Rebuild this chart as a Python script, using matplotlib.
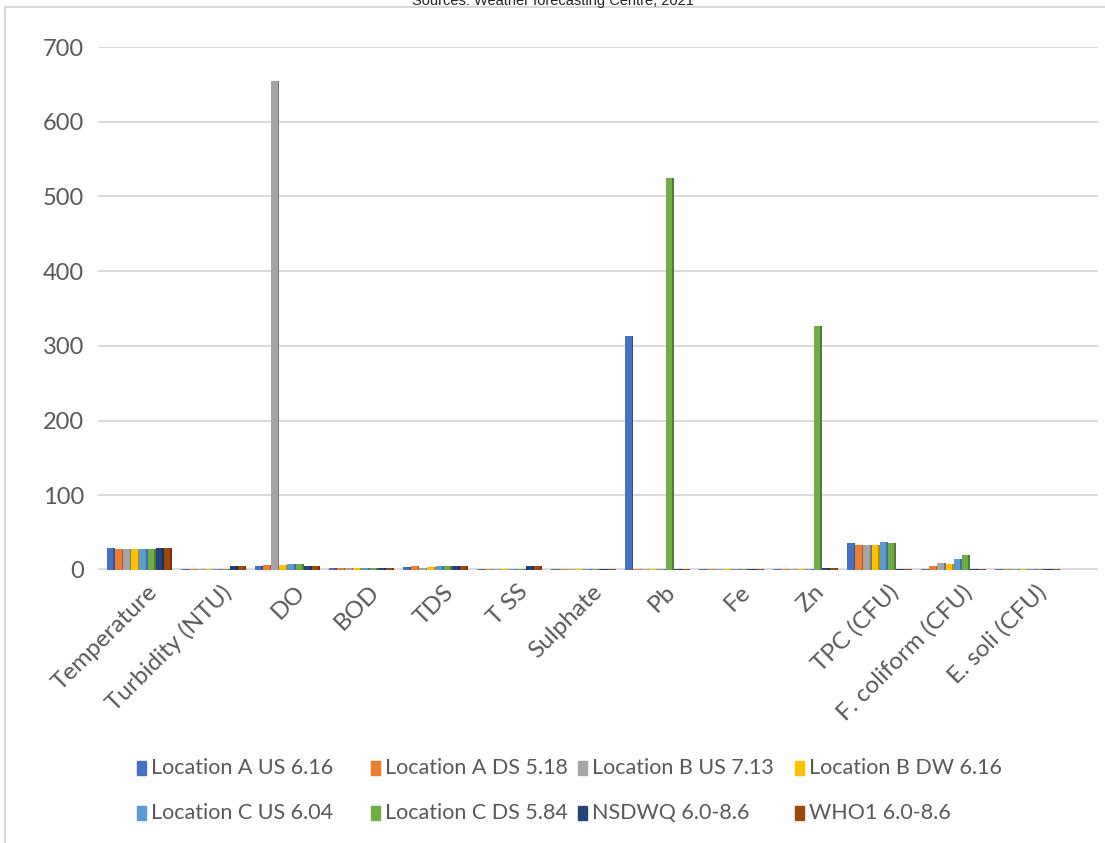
import matplotlib
matplotlib.use("Agg")
import matplotlib.pyplot as plt
from matplotlib.patches import Rectangle
from matplotlib.lines import Line2D
import matplotlib.colors as mcolors
import numpy as np

# Water quality parameters measured at each sampling point
categories = ["Temperature", "Turbidity (NTU)", "DO", "BOD", "TDS", "T SS",
              "Sulphate", "Pb", "Fe", "Zn", "TPC (CFU)", "F. coliform (CFU)",
              "E. soli (CFU)"]

series_names = ["Location A US 6.16", "Location A DS 5.18", "Location B US 7.13",
                "Location B DW 6.16", "Location C US 6.04", "Location C DS 5.84",
                "NSDWQ 6.0-8.6", "WHO1 6.0-8.6"]

loc_a_us = [30, 1.5, 6, 3, 4, 1, 1.5, 313, 1.5, 1, 36, 1, 2]
loc_a_ds = [28, 1.5, 7, 3, 6, 1, 1.5, 1, 1.5, 1, 34, 6, 2]
loc_b_us = [28, 1.5, 655, 3, 3, 1, 1.5, 1, 1.5, 1, 33, 9, 1.5]
loc_b_dw = [28, 1.5, 7, 3, 4, 1, 1.5, 1, 1.5, 1, 34, 8, 2]
loc_c_us = [28, 1.5, 8, 3, 6, 1, 1.5, 1, 1.5, 1, 37, 15, 2]
loc_c_ds = [28, 1.5, 8, 3, 6, 1, 1.5, 525, 1.5, 327, 36, 20, 2]
nsdwq = [30, 5, 5, 3, 5, 5, 2, 1, 1.5, 3, 1, 1, 1]
who1 = [30, 5, 5, 3, 5, 5, 2, 1, 1.5, 3, 1, 1, 1]

y_ticks = [0, 100, 200, 300, 400, 500, 600, 700]

series_values = [loc_a_us, loc_a_ds, loc_b_us, loc_b_dw,
                 loc_c_us, loc_c_ds, nsdwq, who1]
colors = ["#4472C4", "#ED7D31", "#A5A5A5", "#FFC000",
          "#5B9BD5", "#70AD47", "#264478", "#9E480E"]

TEXT = "#595959"
GRID = "#D9D9D9"
FONT = ["Lato", "DejaVu Sans"]

W, H = 1105, 843
fig = plt.figure(figsize=(W / 100, H / 100), dpi=100)

def fx(px):
    return px / W

def fy(py):
    return 1 - py / H

# chart border
fig.add_artist(Line2D([fx(5), fx(5)], [fy(7), 0], color=GRID, lw=1.5))
fig.add_artist(Line2D([fx(5), 1], [fy(7), fy(7)], color=GRID, lw=1.5))

fig.text(0.5, fy(5), "Sources: Weather forecasting Centre, 2021",
         ha="center", va="baseline", fontsize=10.5, color="#222222",
         family=["Liberation Sans Narrow", "Liberation Sans", "DejaVu Sans"])

ax = fig.add_axes([fx(98), fy(570), fx(1098) - fx(98), fy(47) - fy(570)])
ax.set_xlim(-0.56, 12.95)
ax.set_ylim(0, 700)

for t in y_ticks:
    ax.axhline(t, color=GRID, lw=1.4 if t else 2.6, zorder=0)

x = np.arange(len(categories))
n = len(series_values)
slot = 0.11
face = 0.088
for i, (vals, col) in enumerate(zip(series_values, colors)):
    left = x - n * slot / 2 + i * slot
    dark = tuple(c * 0.72 for c in mcolors.to_rgb(col))
    ax.bar(left, vals, width=face, align="edge", color=col, zorder=3)
    ax.bar(left + face, vals, width=slot - face, align="edge", color=dark, zorder=2)

ax.set_xticks(x + 0.1)
ax.set_xticklabels(categories, rotation=45, ha="right", rotation_mode="anchor",
                   fontsize=17.5, color=TEXT, family=FONT)
ax.set_yticks(y_ticks)
ax.set_yticklabels([str(v) for v in y_ticks], fontsize=17, color=TEXT, family=FONT)
ax.tick_params(axis="both", length=0)
ax.tick_params(axis="y", pad=10)
ax.tick_params(axis="x", pad=8)
for s in ax.spines.values():
    s.set_visible(False)
ax.set_facecolor("none")

# legend, two rows of four entries
col_x = [137, 371, 578, 795]
row_y = [768, 813]
for k, (name, col) in enumerate(zip(series_names, colors)):
    r, c = divmod(k, 4)
    px, py = col_x[c], row_y[r]
    fig.add_artist(Rectangle((fx(px), fy(py + 7)), fx(9), 14 / H,
                             transform=fig.transFigure, color=col))
    fig.text(fx(px + 14), fy(py), name, ha="left", va="center",
             fontsize=15.5, color=TEXT, family=FONT)

fig.savefig("out.png", dpi=100)
